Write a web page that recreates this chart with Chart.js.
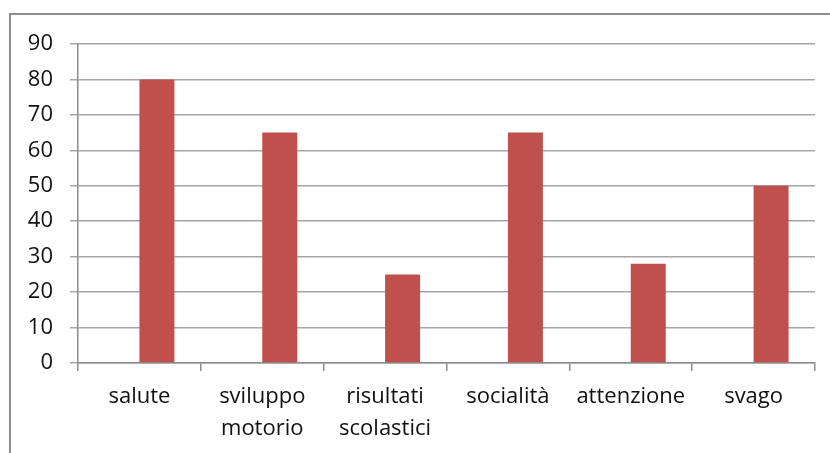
<!DOCTYPE html>
<html lang="it">
<head>
<meta charset="UTF-8" />
<title>Grafico</title>
<script src="https://cdn.jsdelivr.net/npm/chart.js@4/dist/chart.umd.min.js"></script>
<style>
  html, body { margin: 0; padding: 0; background: #fff; }
  #wrap { position: relative; width: 830px; height: 453px; overflow: hidden; }
  #frame { position: absolute; left: 9px; top: 13px; width: 900px; height: 500px;
           border: 2px solid #8c8c8c; box-sizing: border-box; }
  canvas { position: absolute; left: 0; top: 0; }
</style>
</head>
<body>
<div id="wrap">
  <div id="frame"></div>
  <canvas id="chart" width="830" height="453"></canvas>
</div>
<script>
const categories = ['salute', ['sviluppo', 'motorio'], ['risultati', 'scolastici'], 'socialità', 'attenzione', 'svago'];
const emptySeries = [null, null, null, null, null, null];
const values = [80, 65, 25, 65, 28, 50];
const yTicks = [0, 10, 20, 30, 40, 50, 60, 70, 80, 90];

const font = { family: '"Open Sans", sans-serif', size: 22, lineHeight: 1.45 };

const ctx = document.getElementById('chart').getContext('2d');
new Chart(ctx, {
  type: 'bar',
  data: {
    labels: categories,
    datasets: [
      { label: 'Serie 1', data: emptySeries, backgroundColor: '#4F81BD' },
      { label: 'Serie 2', data: values, backgroundColor: '#C0504D' }
    ]
  },
  options: {
    responsive: false,
    animation: false,
    categoryPercentage: 0.57,
    barPercentage: 1,
    layout: { padding: { top: 44, right: 15, left: 0, bottom: 0 } },
    plugins: { legend: { display: false }, tooltip: { enabled: false } },
    scales: {
      x: {
        grid: { display: true, drawOnChartArea: false, color: '#8c8c8c', lineWidth: 1.5, tickLength: 8, offset: true },
        border: { color: '#8c8c8c', width: 1.5 },
        ticks: { color: '#111', font: font, padding: 10, maxRotation: 0, autoSkip: false },
        afterFit: s => { s.height = 90; }
      },
      y: {
        min: 0,
        max: 90,
        afterBuildTicks: s => { s.ticks = yTicks.map(v => ({ value: v })); },
        grid: { color: '#a6a6a6', lineWidth: 1.5, tickLength: 8 },
        border: { color: '#8c8c8c', width: 1.5 },
        ticks: { color: '#111', font: font, padding: 17 },
        afterFit: s => { s.width = 78; }
      }
    }
  }
});
</script>
</body>
</html>
